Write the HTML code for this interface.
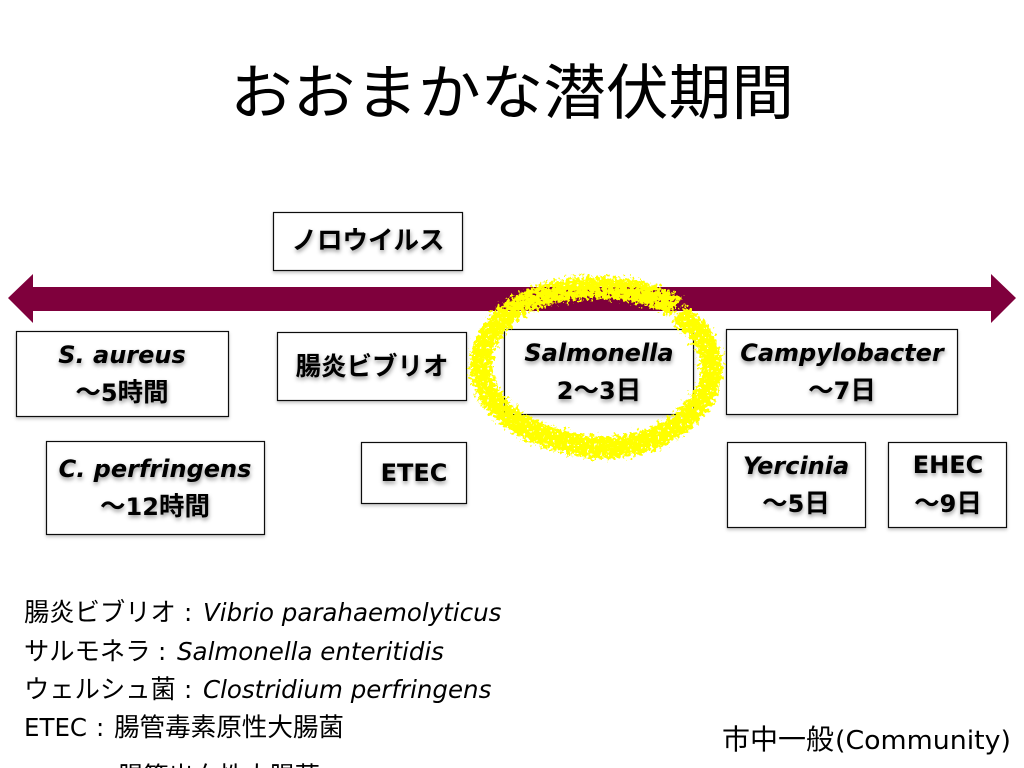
<!DOCTYPE html>
<html lang="ja"><head><meta charset="utf-8"><style>
html,body{margin:0;padding:0;background:#fff}
svg{display:block}
text{font-family:"DejaVu Sans","Noto Sans CJK JP",sans-serif;fill:#000}
.b text{font-weight:bold;font-size:24px;text-anchor:middle;filter:url(#ts)}
.b tspan.c{font-size:25.500px}
.b text.j{font-size:25.500px}
.i{font-style:italic}
.l{font-size:24.500px}
.l .c{font-size:25.300px}
rect.box{fill:#fff;stroke:#111;stroke-width:1.2;filter:url(#bs)}
</style></head><body>
<svg width="1024" height="768" viewBox="0 0 1024 768" xmlns="http://www.w3.org/2000/svg">
<defs>
<filter id="ts" x="-10%" y="-20%" width="120%" height="160%"><feDropShadow dx="0.500" dy="2.500" stdDeviation="2" flood-color="#000" flood-opacity=".4"/></filter>
<filter id="bs" x="-5%" y="-5%" width="110%" height="115%"><feDropShadow dx="0" dy="2" stdDeviation="1.500" flood-color="#000" flood-opacity=".22"/></filter>
<filter id="rough" x="-10%" y="-10%" width="120%" height="120%">
<feTurbulence type="fractalNoise" baseFrequency=".3" numOctaves="4" seed="11" result="n"/>
<feDisplacementMap in="SourceGraphic" in2="n" scale="15" xChannelSelector="R" yChannelSelector="G" result="d"/>
<feTurbulence type="fractalNoise" baseFrequency=".3" numOctaves="2" seed="3"/>
<feColorMatrix type="matrix" values="0 0 0 0 0  0 0 0 0 0  0 0 0 0 0  -14 0 0 0 10.500"/>
<feComposite in="d" operator="in"/>
</filter>
</defs>
<rect width="1024" height="768" fill="#fff"/>
<text x="230" y="114" font-size="60" textLength="564" lengthAdjust="spacingAndGlyphs">おおまかな潜伏期間</text>

<polygon points="8,298 33,274 33,287 991,287 991,274 1016,298 991,323 991,311 33,311 33,323" fill="#7f003c"/>

<rect class="box" x="273.500" y="212.500" width="189" height="58"/>
<rect class="box" x="16.500" y="331.500" width="212" height="85"/>
<rect class="box" x="277.500" y="332.500" width="189" height="68"/>
<rect class="box" x="504.500" y="329.500" width="189" height="85"/>
<rect class="box" x="726.500" y="329.500" width="231" height="85"/>
<rect class="box" x="46.500" y="441.500" width="218" height="93"/>
<rect class="box" x="361.500" y="442.500" width="105" height="61"/>
<rect class="box" x="727.500" y="442.500" width="138" height="85"/>
<rect class="box" x="888.500" y="442.500" width="118" height="85"/>

<g class="b">
<text class="j" x="368" y="249">ノロウイルス</text>
<text x="122" y="363" class="i">S. aureus</text>
<text x="122" y="401"><tspan class="c">〜</tspan>5<tspan class="c">時間</tspan></text>
<text class="j" x="372" y="375">腸炎ビブリオ</text>
<text x="599" y="361" class="i">Salmonella</text>
<text x="599" y="399">2<tspan class="c">〜</tspan>3<tspan class="c">日</tspan></text>
<text x="842" y="361" class="i">Campylobacter</text>
<text x="842" y="399"><tspan class="c">〜</tspan>7<tspan class="c">日</tspan></text>
<text x="155" y="477" class="i">C. perfringens</text>
<text x="155" y="515"><tspan class="c">〜</tspan>12<tspan class="c">時間</tspan></text>
<text x="414" y="481">ETEC</text>
<text x="796" y="474" class="i">Yercinia</text>
<text x="796" y="512"><tspan class="c">〜</tspan>5<tspan class="c">日</tspan></text>
<text x="948" y="473">EHEC</text>
<text x="948" y="512"><tspan class="c">〜</tspan>9<tspan class="c">日</tspan></text>
</g>

<path d="M676 307 C640 285 585 282 540 296 C505 308 482 335 481 365 C480 405 525 438 590 447 C650 452 703 420 711 375 C714 352 703 330 678 314" fill="none" stroke="#ffff00" stroke-width="22" filter="url(#rough)"/>

<g class="l">
<text x="24" y="621"><tspan class="c">腸炎ビブリオ</tspan></text><text x="184" y="621">:</text><text class="i" x="203" y="621">Vibrio parahaemolyticus</text>
<text x="24" y="660"><tspan class="c">サルモネラ</tspan></text><text x="158" y="660">:</text><text class="i" x="177" y="660">Salmonella enteritidis</text>
<text x="24" y="698"><tspan class="c">ウェルシュ菌</tspan></text><text x="184" y="698">:</text><text class="i" x="203" y="698">Clostridium perfringens</text>
<text x="24" y="736">ETEC</text><text x="96" y="736">:</text><text x="114" y="736" textLength="230" lengthAdjust="spacingAndGlyphs"><tspan class="c">腸管毒素原性大腸菌</tspan></text>
<text x="24" y="792">EHEC</text><text x="118" y="785" textLength="202" lengthAdjust="spacingAndGlyphs"><tspan class="c">腸管出血性大腸菌</tspan></text>
</g>
<text x="722" y="749" font-size="28">市中一般</text>
<text x="835" y="749" font-size="26" textLength="176" lengthAdjust="spacingAndGlyphs">(Community)</text>
</svg>
</body></html>
